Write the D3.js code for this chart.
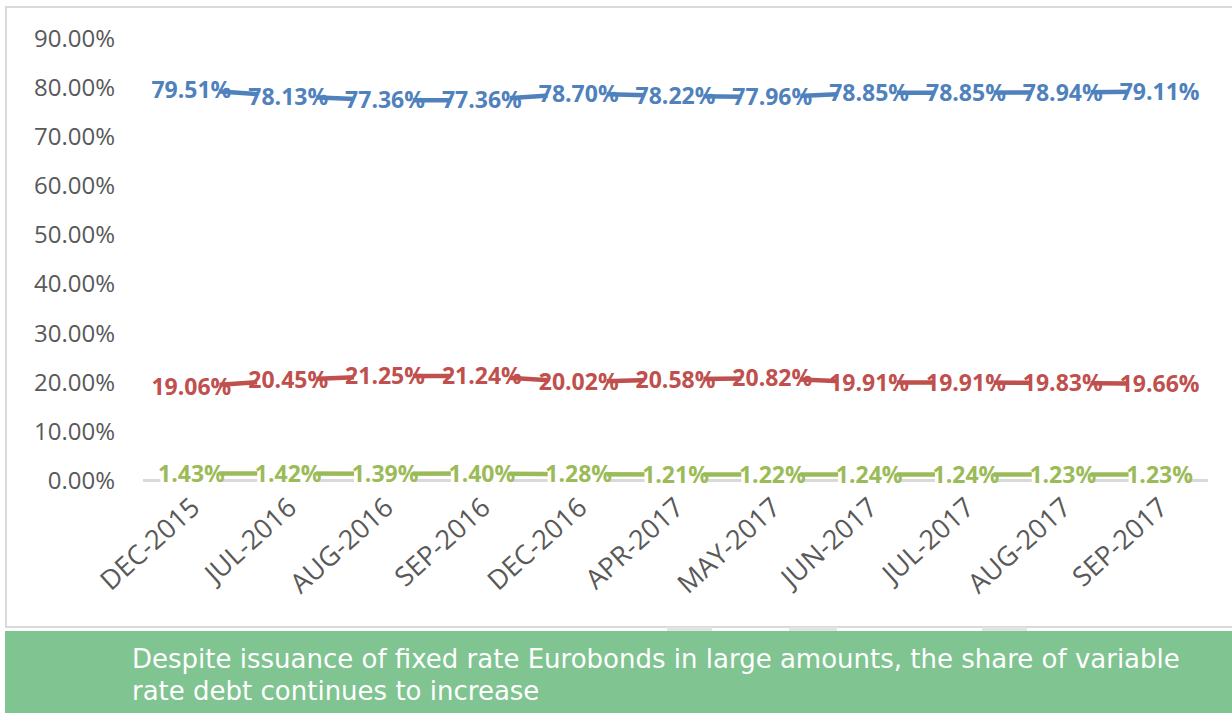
<!DOCTYPE html>
<html>
<head>
<meta charset="utf-8">
<script src="https://cdn.jsdelivr.net/npm/d3@7"></script>
<style>
  html, body { margin: 0; padding: 0; background: #ffffff; }
  svg { display: block; }
</style>
</head>
<body>
<svg id="chart" width="1232" height="713"></svg>
<script>
const categories = ["DEC-2015","JUL-2016","AUG-2016","SEP-2016","DEC-2016","APR-2017","MAY-2017","JUN-2017","JUL-2017","AUG-2017","SEP-2017"];
const fixedRate    = [79.51, 78.13, 77.36, 77.36, 78.70, 78.22, 77.96, 78.85, 78.85, 78.94, 79.11];
const variableRate = [19.06, 20.45, 21.25, 21.24, 20.02, 20.58, 20.82, 19.91, 19.91, 19.83, 19.66];
const otherRate    = [1.43, 1.42, 1.39, 1.40, 1.28, 1.21, 1.22, 1.24, 1.24, 1.23, 1.23];
const yTicks = [0, 10, 20, 30, 40, 50, 60, 70, 80, 90];
const seriesNames = ["Fixed", "Variable", "Other"];
const seriesColors = ["#4F81BD", "#C0504D", "#9BBB59"];
const caption = ["Despite issuance of fixed rate Eurobonds in large amounts, the share of variable",
                 "rate debt continues to increase"];

const series = [fixedRate, variableRate, otherRate].map((v, i) => ({
  name: seriesNames[i], color: seriesColors[i],
  values: v.map((d, j) => ({ cat: categories[j], value: d }))
}));

const svg = d3.select("#chart");

// chart frame
svg.append("rect").attr("x", 6).attr("y", 7).attr("width", 1232).attr("height", 620)
  .attr("fill", "#ffffff").attr("stroke", "#d9d9d9").attr("stroke-width", 2);

const x = d3.scaleBand().domain(categories).range([143, 1208]);
const y = d3.scaleLinear().domain([0, 90]).range([480.5, 38]);
const cx = d => x(d) + x.bandwidth() / 2;

// y axis labels (no line)
svg.append("g").selectAll("text").data(yTicks).join("text")
  .attr("x", 115).attr("y", d => y(d)).attr("dy", "0.36em")
  .attr("text-anchor", "end")
  .attr("font-family", "Open Sans, sans-serif").attr("font-size", 24)
  .attr("fill", "#595959")
  .text(d => d.toFixed(2) + "%");

// baseline
svg.append("line").attr("x1", 143).attr("x2", 1208).attr("y1", y(0)).attr("y2", y(0))
  .attr("stroke", "#d9d9d9").attr("stroke-width", 3);

// x labels rotated
svg.append("g").selectAll("text").data(categories).join("text")
  .attr("transform", d => `translate(${cx(d) + 10},${510}) rotate(-42)`)
  .attr("text-anchor", "end")
  .attr("font-family", "Open Sans, sans-serif").attr("font-size", 27)
  .attr("fill", "#595959")
  .text(d => d);

const line = d3.line().x(d => cx(d.cat)).y(d => y(d.value));

const gs = svg.append("g").selectAll("g").data(series).join("g");
gs.append("path").attr("d", d => line(d.values))
  .attr("fill", "none").attr("stroke", d => d.color).attr("stroke-width", 4.5);

// label backgrounds
gs.selectAll("rect").data(d => d.values).join("rect")
  .attr("x", d => cx(d.cat) - 31).attr("y", d => y(d.value) - 11)
  .attr("width", 59).attr("height", 22).attr("fill", "#ffffff");

gs.each(function(s) {
  d3.select(this).selectAll("text").data(s.values).join("text")
    .attr("x", d => cx(d.cat)).attr("y", d => y(d.value)).attr("dy", "0.36em")
    .attr("text-anchor", "middle")
    .attr("font-family", "Open Sans, sans-serif").attr("font-weight", "bold")
    .attr("font-size", 23).attr("fill", s.color)
    .text(d => d.value.toFixed(2) + "%");
});

// small tabs under frame
[[667, 45], [789, 48], [982, 45]].forEach(([tx, tw]) => {
  svg.append("rect").attr("x", tx).attr("y", 627).attr("width", tw).attr("height", 5).attr("fill", "#e3e3e3");
});

// caption banner
svg.append("rect").attr("x", 5).attr("y", 631).attr("width", 1227).attr("height", 82).attr("fill", "#7FC491");
svg.append("g").selectAll("text").data(caption).join("text")
  .attr("x", 132).attr("y", (d, i) => 668 + i * 32)
  .attr("font-family", "DejaVu Sans, sans-serif").attr("font-size", 26)
  .attr("fill", "#ffffff")
  .text(d => d);
</script>
</body>
</html>
